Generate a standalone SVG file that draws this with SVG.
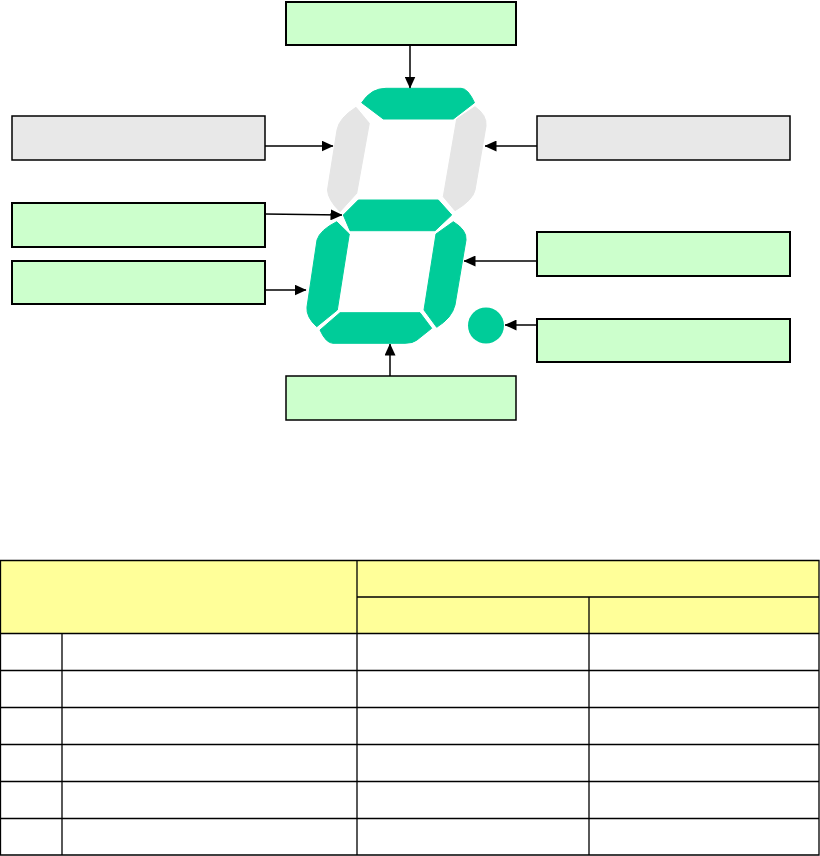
<svg xmlns="http://www.w3.org/2000/svg" width="820" height="856" viewBox="0 0 820 856">
<style>
.g{fill:#CCFFCC;stroke:#000;stroke-width:2}
.n{fill:#E8E8E8;stroke:#000;stroke-width:1.5}
.on{fill:#00CC99;stroke:#00CC99;stroke-width:1;stroke-linejoin:round}
.off{fill:#E5E5E5;stroke:#E5E5E5;stroke-width:1;stroke-linejoin:round}
.c{stroke:#000;stroke-width:1.5;fill:none;marker-end:url(#ah)}
.t{fill:none;stroke:#000;stroke-width:1.3}
.y{fill:#FFFF99}
</style>
<defs>
<marker id="ah" markerUnits="userSpaceOnUse" markerWidth="12" markerHeight="11" refX="11.5" refY="5.5" orient="auto">
<path d="M0,0 L12,5.5 L0,11 Z" fill="#000"/>
</marker>
</defs>
<rect width="820" height="856" fill="#fff"/>
<g id="display">
<path id="seg-a" class="on" d="M361.7,102.7 Q371,88.3 386,88.3 L461,88.3 Q468,88.3 474.5,102.7 L453.3,119 L383.3,119 Z"/>
<path id="seg-f" class="off" d="M356,107.3 L369.3,123.3 L356.7,193.3 L340,211.7 Q328,200 327.5,190 L337,130 Q339,118 356,107.3 Z"/>
<path id="seg-b" class="off" d="M475,106.7 Q487,115 486,126 L475,190 Q473,200 455,210.7 L443.3,196.7 L456.7,119 Z"/>
<path id="seg-g" class="on" d="M343.3,215 L358.3,200 L438.3,200 L451.7,215 L435,230.7 L350,230.7 Z"/>
<path id="seg-e" class="on" d="M336.7,221.7 L349.3,234 L337.3,310 L316.7,326.7 Q306,317 307,307 L317,240 Q320,230 336.7,221.7 Z"/>
<path id="seg-c" class="on" d="M453.3,221.7 Q467,230 466,240 L455,305 Q452,318 436.7,327.3 L424,310 L436,234 Z"/>
<path id="seg-d" class="on" d="M320,330 L340,312.7 L420,312.7 L431.7,328.3 L417,340 Q413,343.3 405,343.3 L333,343.3 Q326,343.3 320,330 Z"/>
<circle id="seg-dp" cx="486" cy="325.5" r="18" fill="#00CC99"/>
</g>
<g id="box-top"><rect class="g" x="286" y="2" width="230" height="43"/></g>
<g id="box-left-gray"><rect class="n" x="12" y="116" width="253" height="44"/></g>
<g id="box-right-gray"><rect class="n" x="537" y="116" width="253" height="44"/></g>
<g id="box-left-green1"><rect class="g" x="12" y="203" width="253" height="44"/></g>
<g id="box-left-green2"><rect class="g" x="12" y="261" width="253" height="43"/></g>
<g id="box-right-green1"><rect class="g" x="537" y="232" width="253" height="44"/></g>
<g id="box-right-green2"><rect class="g" x="537" y="319" width="253" height="43"/></g>
<g id="box-bottom"><rect class="n" style="fill:#CCFFCC" x="286" y="376" width="230" height="44"/></g>
<g id="connectors">
<path class="c" d="M410,45 L410,88"/>
<path class="c" d="M265,146 L333,146"/>
<path class="c" d="M537,146 L485,146"/>
<path class="c" d="M265,214 L342,215"/>
<path class="c" d="M265,290 L306,290"/>
<path class="c" d="M537,261 L464,261"/>
<path class="c" d="M537,325 L505,325"/>
<path class="c" d="M390,376 L390,344"/>
</g>
<g id="table">
<rect class="y" x="0.5" y="560.5" width="818.5" height="73"/>
<path class="t" d="M0.5,560.5 H819 V855 H0.5 Z M357,560.5 V855 M357,597 H819 M589,597 V855 M62,633.5 V855 M0.5,633.5 H819 M0.5,670.5 H819 M0.5,707.5 H819 M0.5,744.5 H819 M0.5,781.5 H819 M0.5,818.5 H819"/>
</g>
</svg>
